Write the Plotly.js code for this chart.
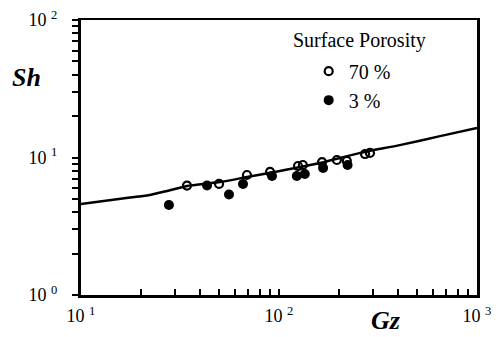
<!DOCTYPE html>
<html>
<head>
<meta charset="utf-8">
<script src="https://cdn.plot.ly/plotly-3.0.1.min.js"></script>
<style>
  html, body { margin: 0; padding: 0; background: #fff; }
  #chart { width: 496px; height: 337px; }
</style>
</head>
<body>
<div id="chart"></div>
<script>
// Sherwood number vs Graetz number, two membrane surface porosities
const gzOpen  = [34.3, 49.8, 68.9, 90.1, 124.7, 132, 165, 196, 220, 272, 288];
const shOpen  = [6.25, 6.42, 7.46, 7.85, 8.67, 8.82, 9.27, 9.59, 9.44, 10.6, 10.8];

const gzFilled = [27.8, 43.3, 55.9, 65.8, 92.2, 123, 135, 167, 222];
const shFilled = [4.51, 6.25, 5.38, 6.42, 7.34, 7.34, 7.58, 8.39, 8.82];

// correlation curve
const gzLine = [10, 17.7, 22.3, 27.2, 34.3, 50.4, 68.9, 101, 161, 257, 407, 651, 1000];
const shLine = [4.59, 5.12, 5.34, 5.71, 6.21, 6.63, 7.21, 7.98, 9.12, 10.8, 12.3, 14.3, 16.4];

const seriesNames = ['70 %', '3 %'];
const legendTitle = 'Surface Porosity';

// decade ticks carry labels, the 2..9 multiples are minor ticks
function logTicks(lo, hi) {
  const vals = [], text = [], minor = [];
  for (let e = lo; e <= hi; e++) {
    const base = Math.pow(10, e);
    vals.push(base); text.push('10 <sup>' + e + '</sup>');
    if (e < hi) {
      for (let m = 2; m <= 9; m++) minor.push(m * base);
    }
  }
  return { vals, text, minor };
}
const xt = logTicks(1, 3);
const yt = logTicks(0, 2);

const serif = "'Liberation Serif', 'Times New Roman', Times, serif";

const traces = [
  {
    x: gzLine, y: shLine, mode: 'lines', type: 'scatter',
    line: { color: '#000', width: 2.5, shape: 'spline', smoothing: 0.6 },
    showlegend: false, hoverinfo: 'skip'
  },
  {
    x: gzOpen, y: shOpen, mode: 'markers', type: 'scatter', name: seriesNames[0],
    marker: { symbol: 'circle-open', size: 8, color: '#000', line: { width: 2.2, color: '#000' } }
  },
  {
    x: gzFilled, y: shFilled, mode: 'markers', type: 'scatter', name: seriesNames[1],
    marker: { symbol: 'circle', size: 10, color: '#000' }
  }
];

const layout = {
  width: 496, height: 337,
  margin: { l: 81, r: 19, t: 20, b: 42 },
  paper_bgcolor: '#fff', plot_bgcolor: '#fff',
  font: { family: serif, color: '#000' },
  xaxis: {
    type: 'log', range: [1, 3],
    tickmode: 'array', tickvals: xt.vals, ticktext: xt.text, tickangle: 0,
    ticks: 'inside', ticklen: 6, tickwidth: 2, tickcolor: '#000',
    minor: { tickmode: 'array', tickvals: xt.minor, ticks: 'inside', ticklen: 6,
             tickwidth: 2, tickcolor: '#000', showgrid: false },
    showline: true, linecolor: '#000', linewidth: 2.5, mirror: true,
    showgrid: false, zeroline: false,
    tickfont: { family: serif, size: 18, color: '#000' },
    ticklabelstandoff: 3
  },
  yaxis: {
    type: 'log', range: [0, 2],
    tickmode: 'array', tickvals: yt.vals, ticktext: yt.text, tickangle: 0,
    ticks: 'outside', ticklen: 6, tickwidth: 2, tickcolor: '#000',
    minor: { tickmode: 'array', tickvals: yt.minor, ticks: 'outside', ticklen: 6,
             tickwidth: 2, tickcolor: '#000', showgrid: false },
    showline: true, linecolor: '#000', linewidth: 3, mirror: true,
    showgrid: false, zeroline: false,
    tickfont: { family: serif, size: 18, color: '#000' },
    ticklabelstandoff: 11
  },
  showlegend: true,
  legend: {
    x: 0.575, y: 0.885, xanchor: 'left', yanchor: 'top',
    bgcolor: 'rgba(0,0,0,0)', borderwidth: 0,
    font: { family: serif, size: 20, color: '#000' },
    tracegroupgap: 0
  },
  annotations: [
    { text: legendTitle, xref: 'paper', yref: 'paper', x: 0.53, y: 0.927,
      xanchor: 'left', yanchor: 'middle', showarrow: false,
      font: { family: serif, size: 20, color: '#000' } },
    { text: '<b><i>Sh</i></b>', xref: 'paper', yref: 'paper', x: -0.18, y: 0.79,
      xanchor: 'left', yanchor: 'middle', showarrow: false,
      font: { family: serif, size: 26, color: '#000' } },
    { text: '<b><i>Gz</i></b>', xref: 'paper', yref: 'paper', x: 0.77, y: -0.152,
      xanchor: 'center', yanchor: 'bottom', showarrow: false,
      font: { family: serif, size: 26, color: '#000' } }
  ]
};

Plotly.newPlot('chart', traces, layout, { staticPlot: true, displayModeBar: false });
</script>
</body>
</html>
